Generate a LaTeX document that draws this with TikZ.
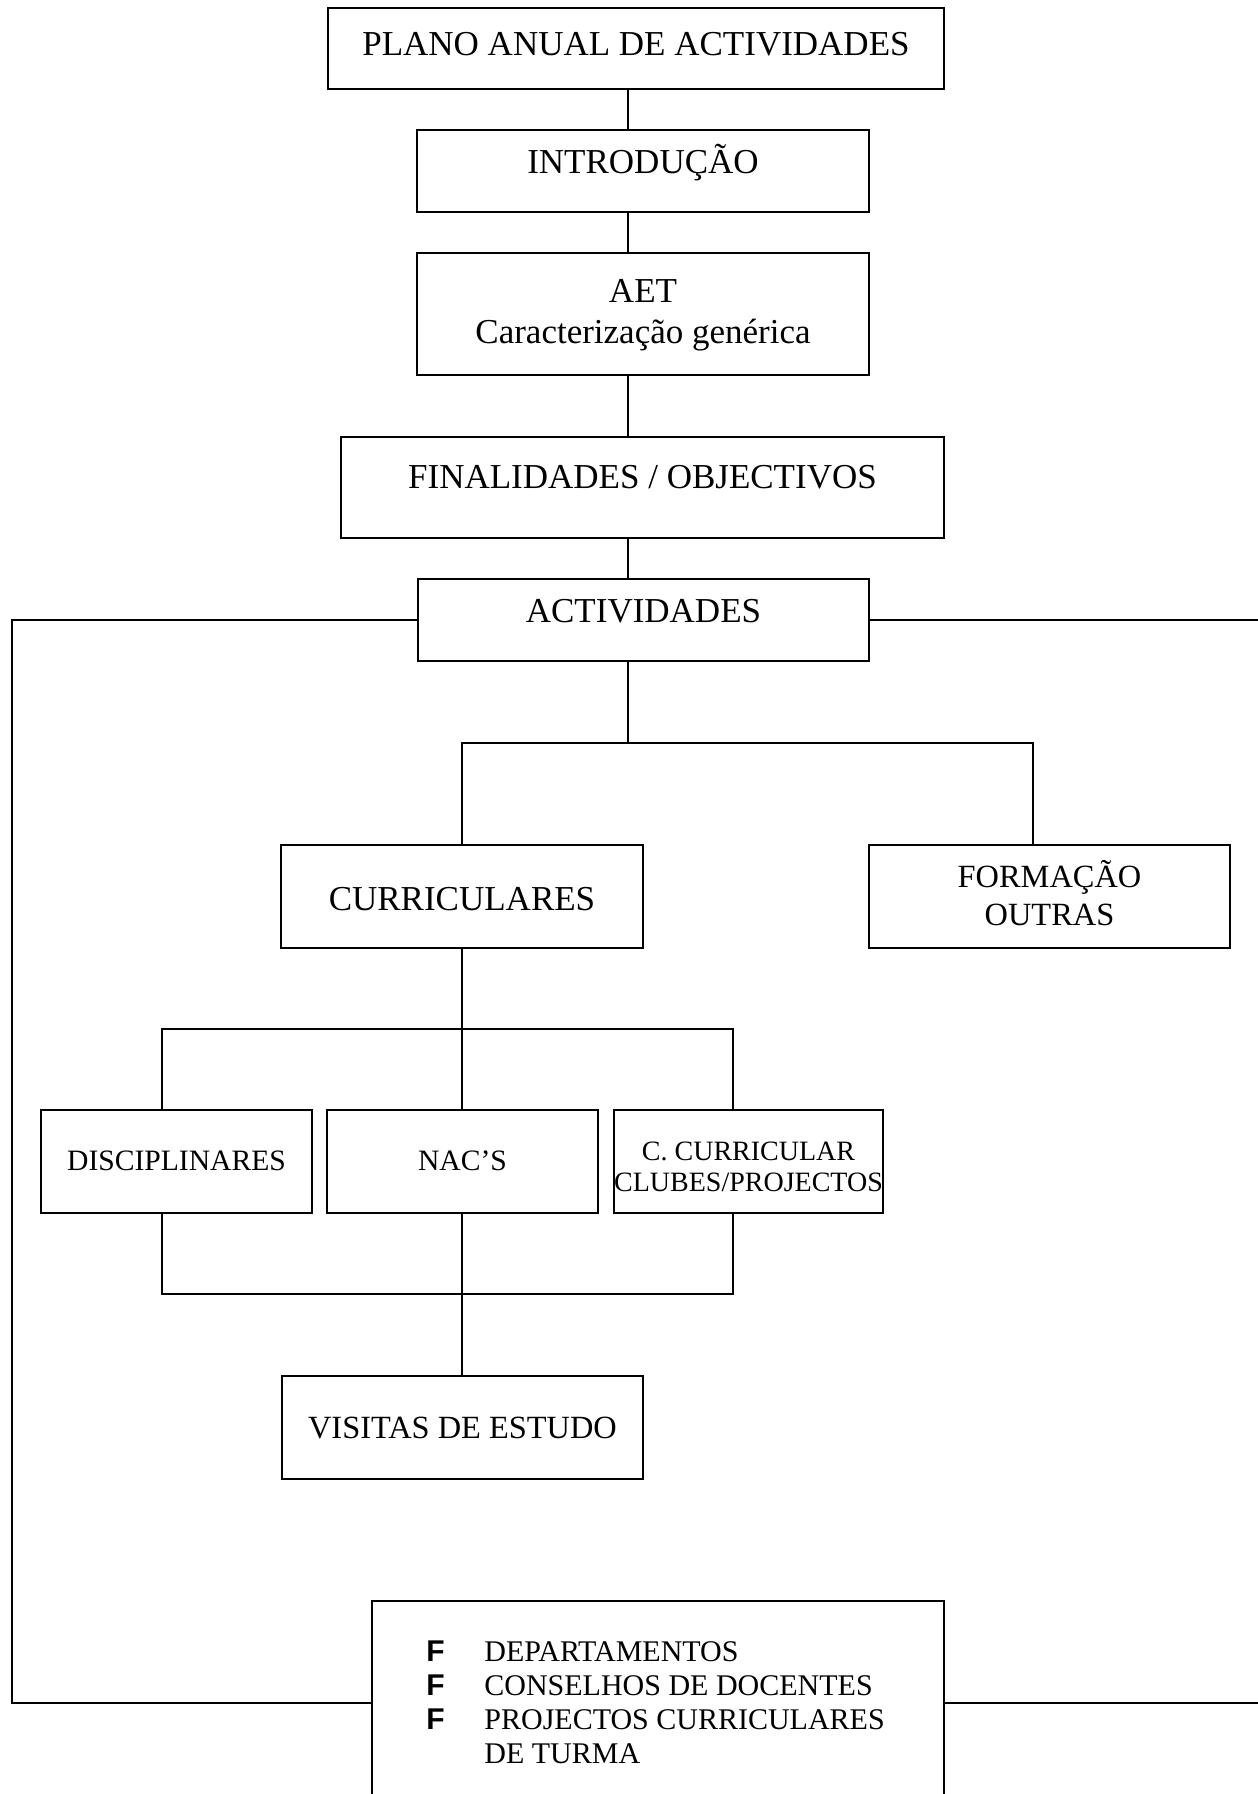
\documentclass[tikz,border=0pt]{standalone}
\usepackage{fontspec}
\setmainfont{Liberation Serif}
\newfontfamily\bulletfont{Liberation Sans}
\begin{document}
\begin{tikzpicture}[x=0.5pt,y=-0.5pt,
  box/.style={draw=black, line width=1pt, inner sep=0pt, fill=none},
  conn/.style={draw=black, line width=1pt},
  lbl/.style={anchor=base, inner sep=0pt, font=\fontsize{17.5}{21}\selectfont},
  lblm/.style={anchor=base, inner sep=0pt, font=\fontsize{16.2}{19}\selectfont},
  lbls/.style={anchor=base, inner sep=0pt, font=\fontsize{14.8}{17}\selectfont},
  lblxs/.style={anchor=base, inner sep=0pt, font=\fontsize{14}{16}\selectfont},
  lblb/.style={anchor=base west, inner sep=0pt, font=\fontsize{15}{17}\selectfont},
  bul/.style={anchor=base west, inner sep=0pt, font=\bulletfont\bfseries\fontsize{15}{17}\selectfont}]
\useasboundingbox (0,0) rectangle (1258,1794);
\clip (0,0) rectangle (1258,1794);
\fill[white] (0,0) rectangle (1258,1794);

% boxes
\node[box, minimum width=308pt, minimum height=40.5pt] (plano) at (636,48.5) {};
\node[box, minimum width=226pt, minimum height=41pt] (intro) at (643,171) {};
\node[box, minimum width=226pt, minimum height=61pt] (aet) at (643,314) {};
\node[box, minimum width=301.5pt, minimum height=50.5pt] (fin) at (642.5,487.5) {};
\node[box, minimum width=225.5pt, minimum height=41pt] (act) at (643.5,620) {};
\node[box, minimum width=181pt, minimum height=51.5pt] (curr) at (462,896.5) {};
\node[box, minimum width=180.5pt, minimum height=51.5pt] (form) at (1049.5,896.5) {};
\node[box, minimum width=135.5pt, minimum height=51.5pt] (disc) at (176.5,1161.5) {};
\node[box, minimum width=135.5pt, minimum height=51.5pt] (nac) at (462.5,1161.5) {};
\node[box, minimum width=134.5pt, minimum height=51.5pt] (cc) at (748.5,1161.5) {};
\node[box, minimum width=180.5pt, minimum height=51.5pt] (vis) at (462.5,1427.5) {};
\node[box, minimum width=286pt, minimum height=100pt] (bot) at (658,1701) {};

% texts
\node[lbl] (tplano) at (636,55) {PLANO ANUAL DE ACTIVIDADES};
\node[lbl] (tintro) at (643,173) {INTRODUÇÃO};
\node[lbl] (taet) at (643,302) {AET};
\node[lbl] (taet2) at (643,343) {Caracterização genérica};
\node[lbl] (tfin) at (642.5,488) {FINALIDADES / OBJECTIVOS};
\node[lbl] (tact) at (643.5,622) {ACTIVIDADES};
\node[lbl] (tcurr) at (462,910) {CURRICULARES};
\node[lblm] (tform) at (1049.5,887) {FORMAÇÃO};
\node[lblm] (tform2) at (1049.5,925) {OUTRAS};
\node[lbls] (tdisc) at (176.5,1170) {DISCIPLINARES};
\node[lbls] (tnac) at (462.5,1170) {NAC’S};
\node[lblxs] (tcc) at (748.5,1160) {C. CURRICULAR};
\node[lblxs] (tcc2) at (748.5,1191) {CLUBES/PROJECTOS};
\node[lblm] (tvis) at (462.5,1438) {VISITAS DE ESTUDO};
\node[bul] (f1) at (426,1661) {F};
\node[bul] (f2) at (426,1695) {F};
\node[bul] (f3) at (426,1729) {F};
\node[lblb] (t1) at (484,1661) {DEPARTAMENTOS};
\node[lblb] (t2) at (484,1695) {CONSELHOS DE DOCENTES};
\node[lblb] (t3) at (484,1729) {PROJECTOS CURRICULARES};
\node[lblb] (t4) at (484,1763) {DE TURMA};

% helper coordinates
\coordinate (c0) at (628,0);
\coordinate (b1) at (628,743);
\coordinate (b1r) at (1033,743);
\coordinate (b2) at (462,1029);
\coordinate (b2l) at (162,1029);
\coordinate (b2r) at (733,1029);
\coordinate (j) at (462,1294);
\coordinate (fl) at (12,1703);
\coordinate (rt1) at (1258,620);
\coordinate (rb) at (1258,1703);

% connectors
\draw[conn] (plano.south -| c0) -- (intro.north -| c0);
\draw[conn] (intro.south -| c0) -- (aet.north -| c0);
\draw[conn] (aet.south -| c0) -- (fin.north -| c0);
\draw[conn] (fin.south -| c0) -- (act.north -| c0);
\draw[conn] (act.south -| b1) -- (b1);
\draw[conn] (curr.north) |- (b1r) -- (b1r |- form.north);
\draw[conn] (curr.south) -- (b2);
\draw[conn] (b2l |- disc.north) |- (b2r) -- (b2r |- cc.north);
\draw[conn] (b2) -- (nac.north -| b2);
\draw[conn] (b2l |- disc.south) |- (j -| b2r) -- (b2r |- cc.south);
\draw[conn] (nac.south -| j) -- (j) -- (vis.north -| j);
\draw[conn, line join=miter] (act.west) -- (fl |- act.west) -- (fl) -- (bot.west |- fl);
\draw[conn] (act.east) -- (rt1);
\draw[conn] (bot.east |- rb) -- (rb);
\end{tikzpicture}
\end{document}
